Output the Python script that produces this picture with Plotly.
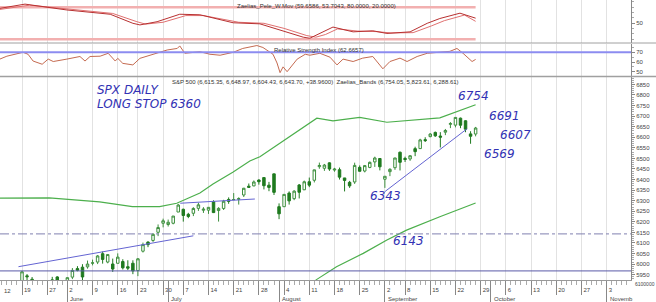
import plotly.graph_objects as go

# ---------------- DATA ----------------
# trading-day index: 0 = 12 May 2025
bar_idx = list(range(5, 96))  # 19 May .. 26 Sep
opens = [5902.9, 5944.7, 5928.6, 5842.0, 5781.9,
         5854.1, 5925.6, 5939.4, 5903.7,
         5896.7, 5938.6, 5978.9, 5985.7, 5987.1,
         6004.6, 6009.9, 6049.4, 6009.9, 6000.6,
         6004.0, 6012.2, 5987.9, 6004.2,
         5969.7, 6061.2, 6104.2, 6112.1, 6150.7,
         6193.4, 6187.3, 6193.4, 6246.4,
         6259.3, 6235.7, 6240.5, 6263.9, 6255.0,
         6255.3, 6295.3, 6253.5, 6263.4, 6305.9,
         6304.7, 6306.6, 6326.9, 6368.6, 6370.0,
         6397.7, 6409.3, 6373.5, 6427.0, 6271.7,
         6271.7, 6336.0, 6309.7, 6374.3, 6351.6,
         6389.7, 6396.6, 6461.0, 6453.4, 6478.9,
         6445.0, 6446.5, 6407.6, 6386.7, 6388.6,
         6457.7, 6440.3, 6457.4, 6483.4, 6499.6,
         6401.5, 6437.4, 6456.1, 6529.0,
         6500.0, 6497.5, 6546.1, 6546.4, 6588.7,
         6603.0, 6622.9, 6606.0, 6624.0, 6661.4,
         6657.4, 6690.3, 6678.0, 6616.0, 6615.35]
highs = [5968.6, 5953.1, 5939.1, 5878.1, 5829.5,
         5924.3, 5939.9, 5943.1, 5922.1,
         5937.4, 5981.4, 5990.5, 5999.7, 6016.9,
         6021.3, 6043.0, 6059.4, 6045.4, 6026.2,
         6050.8, 6023.3, 6018.2, 6018.2,
         6028.8, 6101.8, 6108.5, 6146.5, 6187.7,
         6215.1, 6210.8, 6227.6, 6284.7,
         6262.6, 6242.7, 6269.2, 6290.2, 6269.4,
         6270.2, 6302.0, 6269.2, 6304.2, 6315.6,
         6336.1, 6316.1, 6360.6, 6381.3, 6395.8,
         6401.1, 6409.3, 6389.0, 6427.0, 6287.3,
         6330.6, 6344.0, 6350.0, 6379.0, 6395.2,
         6409.5, 6446.6, 6480.3, 6473.8, 6481.3,
         6455.4, 6456.6, 6407.7, 6393.6, 6479.9,
         6466.9, 6469.0, 6485.2, 6508.2, 6500.3,
         6416.6, 6453.7, 6502.5, 6532.7,
         6508.2, 6515.4, 6555.2, 6592.9, 6600.1,
         6619.6, 6627.0, 6624.2, 6639.3, 6671.8,
         6695.0, 6692.9, 6680.3, 6628.6, 6648.97]
lows = [5895.7, 5910.4, 5838.2, 5825.8, 5767.4,
        5854.1, 5886.6, 5873.8, 5843.7,
        5861.4, 5929.0, 5966.1, 5921.2, 5978.6,
        5994.2, 6000.3, 6002.3, 6003.9, 5963.2,
        6004.0, 5974.8, 5971.9, 5952.6,
        5943.2, 6055.0, 6080.3, 6105.2, 6132.4,
        6174.0, 6177.9, 6188.3, 6246.4,
        6201.0, 6217.4, 6227.2, 6251.8, 6242.2,
        6237.6, 6241.6, 6201.3, 6256.1, 6285.3,
        6303.8, 6281.7, 6317.5, 6360.6, 6368.5,
        6375.9, 6353.4, 6345.0, 6327.0, 6212.7,
        6271.7, 6281.6, 6302.5, 6310.6, 6350.3,
        6364.1, 6386.3, 6451.0, 6441.1, 6441.1,
        6437.0, 6400.2, 6343.9, 6360.6, 6379.4,
        6438.1, 6433.9, 6453.7, 6459.8, 6443.4,
        6360.6, 6416.2, 6445.7, 6443.0,
        6483.2, 6488.6, 6510.6, 6545.8, 6577.6,
        6600.0, 6601.8, 6551.8, 6610.1, 6643.3,
        6646.9, 6642.9, 6623.8, 6569.2, 6604.43]
closes = [5963.6, 5940.5, 5844.6, 5842.0, 5802.8,
          5921.5, 5888.6, 5912.2, 5911.7,
          5935.9, 5970.4, 5970.8, 5939.3, 6000.4,
          6005.9, 6038.8, 6022.2, 6045.3, 5977.0,
          6033.1, 5982.7, 5980.9, 5967.8,
          6025.2, 6092.2, 6092.2, 6141.0, 6173.1,
          6205.0, 6198.0, 6227.4, 6279.4,
          6230.0, 6225.5, 6263.3, 6280.5, 6259.8,
          6268.6, 6243.8, 6263.7, 6297.4, 6296.8,
          6305.6, 6309.6, 6358.9, 6363.4, 6388.6,
          6389.8, 6370.9, 6362.9, 6339.4, 6238.0,
          6329.9, 6299.2, 6345.1, 6340.0, 6389.5,
          6373.5, 6445.8, 6466.6, 6468.5, 6449.8,
          6449.2, 6411.4, 6395.8, 6370.2, 6466.9,
          6439.3, 6465.9, 6481.4, 6501.9, 6460.3,
          6415.5, 6448.3, 6502.1, 6481.5,
          6495.2, 6512.6, 6532.0, 6587.5, 6584.3,
          6615.3, 6606.8, 6600.4, 6632.0, 6664.4,
          6693.8, 6656.9, 6638.0, 6604.7, 6643.7]

# Zaelias bands (upper / lower)
upper_x = [0, 10.4, 20.4, 26.9, 32.3, 35.7, 40.3, 42.9, 46.9, 50.2, 52.2, 57.6, 60.8, 63.5, 66.7, 72.0, 77.4, 84.0, 87.9, 95]
upper_y = [6312, 6313, 6294, 6272, 6272, 6288, 6336, 6379, 6436, 6488, 6508, 6595, 6650, 6690, 6678, 6694, 6671, 6682, 6692, 6754]
lower_x = [60.0, 63.5, 67.4, 72.7, 77.4, 81.3, 87.9, 95]
lower_y = [5860, 5928, 5988, 6051, 6114, 6161, 6224, 6289]

# trend lines
trend1_x, trend1_y = [4.3, 39.0], [5988, 6134]
trend2_x, trend2_y = [36.4, 51.2], [6288, 6308]
trend3_x, trend3_y = [77.0, 93.3], [6343, 6640]
level_dashdot = 6143
level_solid = 5968

# Zaelias_Pele_W.Mov panel
pele_a_x = [0.6, 5.6, 13.9, 22.5, 27.0, 28.4, 31.8, 36.3, 40.3, 44.3, 46.9, 52.2, 56.2, 60.8, 62.1, 64.1, 66.7, 70.7, 74.6, 77.4, 82.0, 85.4, 87.9, 91.9, 95.0]
pele_a_y = [78, 86, 75, 67, 50, 47, 53, 67, 66, 57, 51, 49, 38, 24, 22, 31, 43, 34, 36, 31, 34, 50, 59, 69, 59.66]
pele_b_x = [0.6, 6.5, 14.5, 23.0, 27.8, 29.5, 33.0, 37.5, 41.0, 45.0, 48.0, 53.0, 57.0, 61.5, 63.3, 65.2, 67.6, 71.5, 75.2, 78.2, 82.6, 86.2, 88.8, 92.8, 95.0]
pele_b_y = [76, 84, 76.5, 68.5, 53, 48.5, 52, 64.5, 64.5, 57, 52, 50, 40.5, 27, 24, 29, 39.5, 35.5, 34.5, 32, 32.5, 45, 55, 65.5, 53.70]
pele_levels = [80, 20]

# RSI panel
rsi_x = [0.6, 2.0, 5.2, 6.2, 7.2, 9.0, 10.2, 11.2, 13.9, 16.5, 17.5, 18.5, 20.5, 22.1, 23.5, 24.0, 25.0, 27.0, 28.4, 30.4,
         32.4, 33.8, 35.8, 36.3, 37.3, 40.3, 42.3, 44.3, 46.9, 48.8, 51.6, 52.8, 54.8, 55.6, 56.2, 56.8, 57.6, 59.6, 61.2, 62.1,
         64.1, 66.1, 67.5, 68.7, 70.7, 72.6, 74.6, 76.6, 78.0, 80.0, 81.4, 83.4, 85.4, 87.9, 89.9, 91.3, 92.5, 94.3, 95.0]
rsi_y = [63, 66, 70, 68, 61, 57.7, 63, 60.5, 63, 65.7, 61, 65.7, 66, 69, 61, 63.8, 58.6, 57, 63.8, 67,
         70.6, 72.4, 74, 76.6, 69, 70.6, 68, 67, 70, 74, 77, 75, 68, 59, 49, 55, 50, 63, 68, 67,
         69, 65, 57, 63, 60.5, 64, 65.7, 53, 60.5, 64, 60.5, 65.7, 69, 70, 71, 74, 69, 60.5, 62.67]
rsi_level = 70

# axis ticks
week_idx = [0, 5, 10, 14, 19, 24, 28, 33, 37, 42, 47, 52, 57, 62, 67, 72, 77, 81, 86, 91, 96, 101, 106, 111, 116, 121]
week_lbl = ['12', '19', '27', '2', '9', '16', '23', '30', '7', '14', '21', '28', '4', '11', '18', '25', '2', '8', '15', '22', '29', '6', '13', '20', '27', '3']
month_idx = [14, 34, 56, 77, 98, 121]
month_lbl = ['June', 'July', 'August', 'September', 'October', 'Novemb']
day_idx = list(range(0, 127))

# ---------------- FIGURE ----------------
PW, PH = 631, 280
def fx(p): return p / PW
def fy(p): return 1 - p / PH

XR = [0.635, 125.83]
RED = '#b83030'

fig = go.Figure()

# top panel
for lv in pele_levels:
    fig.add_trace(go.Scatter(x=[week_idx[0], bar_idx[-1]], y=[lv, lv], mode='lines',
                             line=dict(color='#f2b0b0', width=2.5), xaxis='x', yaxis='y', hoverinfo='skip'))
fig.add_trace(go.Scatter(x=pele_b_x, y=pele_b_y, mode='lines', line=dict(color='#e07070', width=1),
                         xaxis='x', yaxis='y'))
fig.add_trace(go.Scatter(x=pele_a_x, y=pele_a_y, mode='lines', line=dict(color=RED, width=1),
                         xaxis='x', yaxis='y'))

# RSI panel
fig.add_trace(go.Scatter(x=rsi_x, y=rsi_y, mode='lines', line=dict(color='#c46a50', width=1),
                         xaxis='x2', yaxis='y2'))

# main panel
fig.add_trace(go.Scatter(x=upper_x, y=upper_y, mode='lines', line=dict(color='#4caf4c', width=1.2),
                         xaxis='x3', yaxis='y3'))
fig.add_trace(go.Scatter(x=lower_x, y=lower_y, mode='lines', line=dict(color='#4caf4c', width=1.2),
                         xaxis='x3', yaxis='y3'))
for tx, ty in [(trend1_x, trend1_y), (trend2_x, trend2_y), (trend3_x, trend3_y)]:
    fig.add_trace(go.Scatter(x=tx, y=ty, mode='lines', line=dict(color='#6464d2', width=1),
                             xaxis='x3', yaxis='y3'))
fig.add_trace(go.Candlestick(x=bar_idx, open=opens, high=highs, low=lows, close=closes,
                             xaxis='x3', yaxis='y3', whiskerwidth=0,
                             increasing=dict(fillcolor='white', line=dict(color='#3d8f3d', width=1)),
                             decreasing=dict(fillcolor='#1f7a1f', line=dict(color='#1f7a1f', width=1))))
# dummy for month tick axis
fig.add_trace(go.Scatter(x=[month_idx[0]], y=[level_solid], mode='markers', marker=dict(size=1, opacity=0),
                         xaxis='x4', yaxis='y3', hoverinfo='skip'))

xcommon = dict(range=XR, showgrid=True, gridcolor='#e2e2e2', gridwidth=1, tickmode='array',
               tickvals=week_idx, zeroline=False, fixedrange=True)
ycommon = dict(side='right', showgrid=False, zeroline=False, showline=True, linecolor='#888',
               ticks='outside', ticklen=3, tickcolor='#888', tickfont=dict(size=6, color='#444'),
               fixedrange=True)

fig.update_layout(
    width=656, height=302, margin=dict(l=0, r=25, t=0, b=22),
    paper_bgcolor='white', plot_bgcolor='white', showlegend=False,
    font=dict(family='Liberation Sans, Arial, sans-serif', size=6, color='#444'),
    xaxis=dict(**xcommon, anchor='y', showticklabels=False, ticks='', showline=False),
    xaxis2=dict(**xcommon, anchor='y2', showticklabels=False, ticks='', showline=False),
    xaxis3=dict(**xcommon, anchor='y3', ticktext=week_lbl, ticks='outside', ticklen=14, tickcolor='#888',
                ticklabelposition='outside right', ticklabelstandoff=4, ticklabelshift=1,
                tickfont=dict(size=6, color='#444'), showline=True, linecolor='#999',
                minor=dict(ticks='outside', ticklen=4, tickcolor='#aaa', tickmode='array',
                           tickvals=day_idx, showgrid=False),
                rangeslider=dict(visible=False)),
    xaxis4=dict(range=XR, overlaying='x3', anchor='y3', side='bottom', tickmode='array', tickvals=month_idx,
                ticks='outside', ticklen=22, tickcolor='#888', showticklabels=False, showgrid=False,
                zeroline=False, showline=False, fixedrange=True),
    yaxis=dict(**ycommon, domain=[1 - 43 / PH, 1], range=[13.1, 93.7], tickmode='array', tickvals=[50],
               minor=dict(ticks='outside', ticklen=2, tickcolor='#aaa', dtick=10)),
    yaxis2=dict(**ycommon, domain=[1 - 76.5 / PH, 1 - 43.5 / PH], range=[45.05, 79.1], tickmode='array',
                tickvals=[50, 60, 70], minor=dict(ticks='outside', ticklen=2, tickcolor='#aaa', dtick=5)),
    yaxis3=dict(**ycommon, domain=[0, 1 - 77 / PH], range=[5925, 6885], tickmode='linear', tick0=5950,
                dtick=50, minor=dict(ticks='outside', ticklen=2, tickcolor='#aaa', dtick=10)),
)

shapes = [
    dict(type='line', xref='paper', yref='paper', x0=0, x1=656 / PW, y0=fy(43), y1=fy(43),
         line=dict(color='#a0a0a0', width=1)),
    dict(type='line', xref='paper', yref='paper', x0=0, x1=656 / PW, y0=fy(76.5), y1=fy(76.5),
         line=dict(color='#a0a0a0', width=1.5)),
    dict(type='line', xref='x2 domain', yref='y2', x0=0, x1=1, y0=rsi_level, y1=rsi_level,
         line=dict(color='#8c8cf0', width=2)),
    dict(type='line', xref='x3 domain', yref='y3', x0=0, x1=1, y0=level_dashdot, y1=level_dashdot,
         line=dict(color='#8080b0', width=1, dash='dashdot')),
    dict(type='line', xref='x3 domain', yref='y3', x0=0, x1=1, y0=level_solid, y1=level_solid,
         line=dict(color='#5a5aa8', width=1)),
]
fig.update_layout(shapes=shapes)

HAND = '#3232b4'
hand_font = dict(family='DejaVu Sans', size=12, color=HAND, style='italic')
annotations = [
    dict(text='Zaelias_Pele_W.Mov (59.6586, 53.7043, 80.0000, 20.0000)', x=fx(235), y=fy(6), xanchor='left',
         font=dict(size=6, color='#333')),
    dict(text='Relative Strength Index (62.6657)', x=fx(272), y=fy(49.5), xanchor='left',
         font=dict(size=6, color='#333')),
    dict(text='S&amp;P 500 (6,615.35, 6,648.97, 6,604.43, 6,643.70, +38.9600)  Zaelias_Bands (6,754.05, 5,823.61, 6,288.61)',
         x=fx(170), y=fy(81.5), xanchor='left', font=dict(size=6, color='#333')),
    dict(text='SPX DAILY', x=fx(95), y=fy(90), xanchor='left', font=hand_font),
    dict(text='LONG STOP 6360', x=fx(95), y=fy(104), xanchor='left', font=hand_font),
    dict(text='6754', x=fx(456), y=fy(96), xanchor='left', font=hand_font),
    dict(text='6691', x=fx(487), y=fy(116), xanchor='left', font=hand_font),
    dict(text='6607', x=fx(498), y=fy(135), xanchor='left', font=hand_font),
    dict(text='6569', x=fx(482), y=fy(154), xanchor='left', font=hand_font),
    dict(text='6343', x=fx(368), y=fy(196), xanchor='left', font=hand_font),
    dict(text='6143', x=fx(391), y=fy(241), xanchor='left', font=hand_font),
    dict(text='12', x=fx(2), y=fy(290.5), xanchor='left', font=dict(size=6, color='#444')),
    dict(text='6100000', x=fx(633), y=fy(283.5), xanchor='left', font=dict(size=5, color='#444')),
]
for a in annotations:
    a.setdefault('xref', 'paper')
    a.setdefault('yref', 'paper')
    a.setdefault('showarrow', False)
    a.setdefault('yanchor', 'middle')
for m, lbl in zip(month_idx, month_lbl):
    annotations.append(dict(text=lbl, x=m, xref='x3', y=fy(298.5), yref='paper', xanchor='left', xshift=1,
                            yanchor='middle', showarrow=False, font=dict(size=6, color='#444')))
fig.update_layout(annotations=annotations)

fig.write_html('out.html')
